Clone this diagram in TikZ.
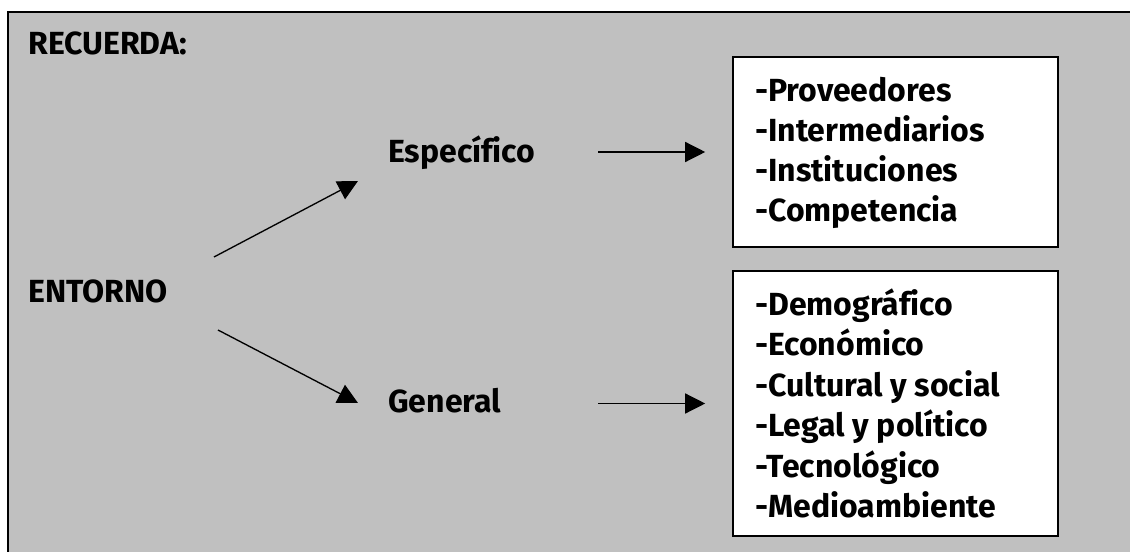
\documentclass[tikz,border=0pt]{standalone}
\usepackage{fontspec}
\setmainfont{Fira Sans}[Ligatures=NoCommon]
\usetikzlibrary{arrows.meta}
\definecolor{panelgray}{HTML}{C0C0C0}
\begin{document}
\begin{tikzpicture}[x=0.75pt,y=-0.75pt,
  lbl/.style={anchor=base west, inner sep=0pt, font=\bfseries\fontsize{24}{30}\selectfont},
  listbox/.style={draw, line width=1.2pt, fill=white, minimum width=243.75pt, inner sep=0pt},
  arr/.style={line width=1pt, -{Triangle[length=15pt,width=15pt]}}]
  \useasboundingbox (0,0) rectangle (1130,552);
  \fill[white] (0,0) rectangle (1130,552);
  % grey panel, running off the right and bottom edges
  \draw[line width=1.5pt, fill=panelgray] (8,12) rectangle (1145,570);

  \node[lbl] (rec) at (28,55) {RECUERDA:};
  \node[lbl] (ent) at (28,302) {ENTORNO};
  \node[lbl] (esp) at (388,163) {Específico};
  \node[lbl] (gen) at (388,412) {General};

  % list boxes
  \node[listbox, minimum height=142.5pt] (boxA) at (895.5,152) {};
  \node[listbox, minimum height=198.75pt] (boxB) at (895.5,403.5) {};

  \node[lbl] (a1) at (755,102) {-Proveedores};
  \node[lbl] (a2) at (755,142) {-Intermediarios};
  \node[lbl] (a3) at (755,182) {-Instituciones};
  \node[lbl] (a4) at (755,222) {-Competencia};

  \node[lbl] (b1) at (755,315) {-Demográfico};
  \node[lbl] (b2) at (755,355) {-Económico};
  \node[lbl] (b3) at (755,396) {-Cultural y social};
  \node[lbl] (b4) at (755,436) {-Legal y político};
  \node[lbl] (b5) at (755,477) {-Tecnológico};
  \node[lbl] (b6) at (755,517) {-Medioambiente};

  % branches out of ENTORNO
  \coordinate (upS) at (214,257);
  \coordinate (upE) at (358,181);
  \coordinate (dnS) at (218,330);
  \coordinate (dnE) at (358,403);
  \draw[arr] (upS) -- (upE);
  \draw[arr] (dnS) -- (dnE);

  % arrows into the boxes
  \draw[arr] ([xshift=-100.5pt]boxA.west) -- ([xshift=-20.25pt]boxA.west);
  \draw[arr] ([xshift=-100.5pt]boxB.west) -- ([xshift=-20.25pt]boxB.west);
\end{tikzpicture}
\end{document}
